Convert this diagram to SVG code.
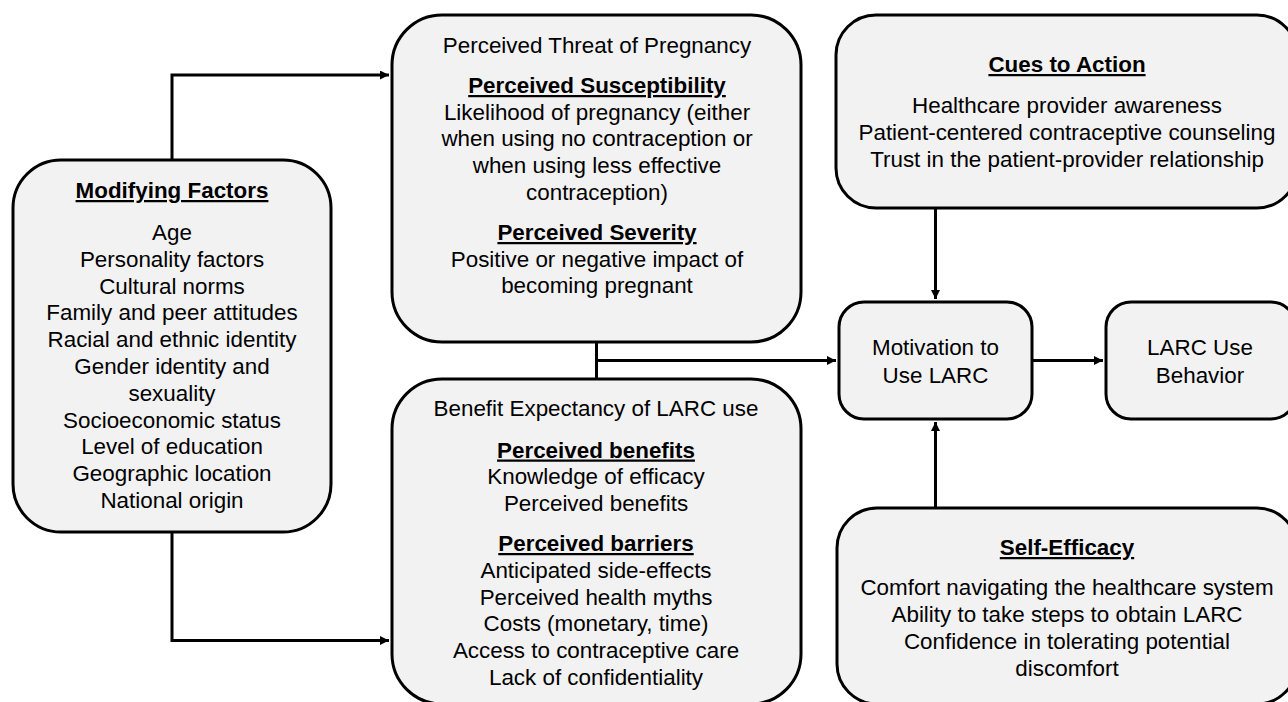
<svg xmlns="http://www.w3.org/2000/svg" width="1288" height="702" viewBox="0 0 1288 702">
<style>
.box{fill:#f2f2f2;stroke:#000;stroke-width:3}
.t{font-family:"Liberation Sans",Arial,sans-serif;font-size:22.4px;fill:#000;text-anchor:middle}
.h{font-weight:bold;text-decoration:underline}
.c{fill:none;stroke:#000;stroke-width:3}
</style>
<defs>
<marker id="ah" markerUnits="userSpaceOnUse" markerWidth="10" markerHeight="10" refX="9" refY="4.5" orient="auto">
<path d="M0,0 L9,4.5 L0,9 z" fill="#000"/>
</marker>
</defs>
<rect width="1288" height="702" fill="#fff"/>
<g id="connectors">
<path class="c" d="M172,160 V75 H389" marker-end="url(#ah)"/>
<path class="c" d="M172,532 V640.5 H389" marker-end="url(#ah)"/>
<path class="c" d="M596.5,342 V379"/>
<path class="c" d="M596.5,360.5 H836" marker-end="url(#ah)"/>
<path class="c" d="M935.5,208 V299" marker-end="url(#ah)"/>
<path class="c" d="M935.5,508 V422" marker-end="url(#ah)"/>
<path class="c" d="M1032,360.5 H1103" marker-end="url(#ah)"/>
</g>
<g id="modifying-factors">
<rect class="box" x="13" y="160" width="318" height="372" rx="48"/>
<text class="t h" x="172" y="198">Modifying Factors</text>
<text class="t" x="172" y="240">Age</text>
<text class="t" x="172" y="266.8">Personality factors</text>
<text class="t" x="172" y="293.6">Cultural norms</text>
<text class="t" x="172" y="320.4">Family and peer attitudes</text>
<text class="t" x="172" y="347.2">Racial and ethnic identity</text>
<text class="t" x="172" y="374">Gender identity and</text>
<text class="t" x="172" y="400.8">sexuality</text>
<text class="t" x="172" y="427.6">Socioeconomic status</text>
<text class="t" x="172" y="454.4">Level of education</text>
<text class="t" x="172" y="481.2">Geographic location</text>
<text class="t" x="172" y="508">National origin</text>
</g>
<g id="perceived-threat">
<rect class="box" x="392" y="15" width="409" height="327" rx="50"/>
<text class="t" x="597" y="53">Perceived Threat of Pregnancy</text>
<text class="t h" x="597" y="93">Perceived Susceptibility</text>
<text class="t" x="597" y="119.7">Likelihood of pregnancy (either</text>
<text class="t" x="597" y="146.4">when using no contraception or</text>
<text class="t" x="597" y="173.1">when using less effective</text>
<text class="t" x="597" y="199.8">contraception)</text>
<text class="t h" x="597" y="240">Perceived Severity</text>
<text class="t" x="597" y="266.7">Positive or negative impact of</text>
<text class="t" x="597" y="293.4">becoming pregnant</text>
</g>
<g id="benefit-expectancy">
<rect class="box" x="392" y="379" width="409" height="325" rx="50"/>
<text class="t" x="596" y="416">Benefit Expectancy of LARC use</text>
<text class="t h" x="596" y="457.5">Perceived benefits</text>
<text class="t" x="596" y="484.3">Knowledge of efficacy</text>
<text class="t" x="596" y="511">Perceived benefits</text>
<text class="t h" x="596" y="551">Perceived barriers</text>
<text class="t" x="596" y="578">Anticipated side-effects</text>
<text class="t" x="596" y="604.7">Perceived health myths</text>
<text class="t" x="596" y="631.4">Costs (monetary, time)</text>
<text class="t" x="596" y="658.1">Access to contraceptive care</text>
<text class="t" x="596" y="684.8">Lack of confidentiality</text>
</g>
<g id="cues-to-action">
<rect class="box" x="836" y="15" width="461" height="193" rx="40"/>
<text class="t h" x="1067" y="72">Cues to Action</text>
<text class="t" x="1067" y="113.3">Healthcare provider awareness</text>
<text class="t" x="1067" y="140">Patient-centered contraceptive counseling</text>
<text class="t" x="1067" y="166.7">Trust in the patient-provider relationship</text>
</g>
<g id="motivation">
<rect class="box" x="839" y="302" width="193" height="117" rx="25"/>
<text class="t" x="935.5" y="355">Motivation to</text>
<text class="t" x="935.5" y="382.5">Use LARC</text>
</g>
<g id="larc-use-behavior">
<rect class="box" x="1106" y="302" width="190" height="117" rx="25"/>
<text class="t" x="1200" y="355">LARC Use</text>
<text class="t" x="1200" y="382.5">Behavior</text>
</g>
<g id="self-efficacy">
<rect class="box" x="837" y="508" width="460" height="196" rx="40"/>
<text class="t h" x="1067" y="555">Self-Efficacy</text>
<text class="t" x="1067" y="595">Comfort navigating the healthcare system</text>
<text class="t" x="1067" y="622">Ability to take steps to obtain LARC</text>
<text class="t" x="1067" y="649">Confidence in tolerating potential</text>
<text class="t" x="1067" y="676">discomfort</text>
</g>
</svg>
